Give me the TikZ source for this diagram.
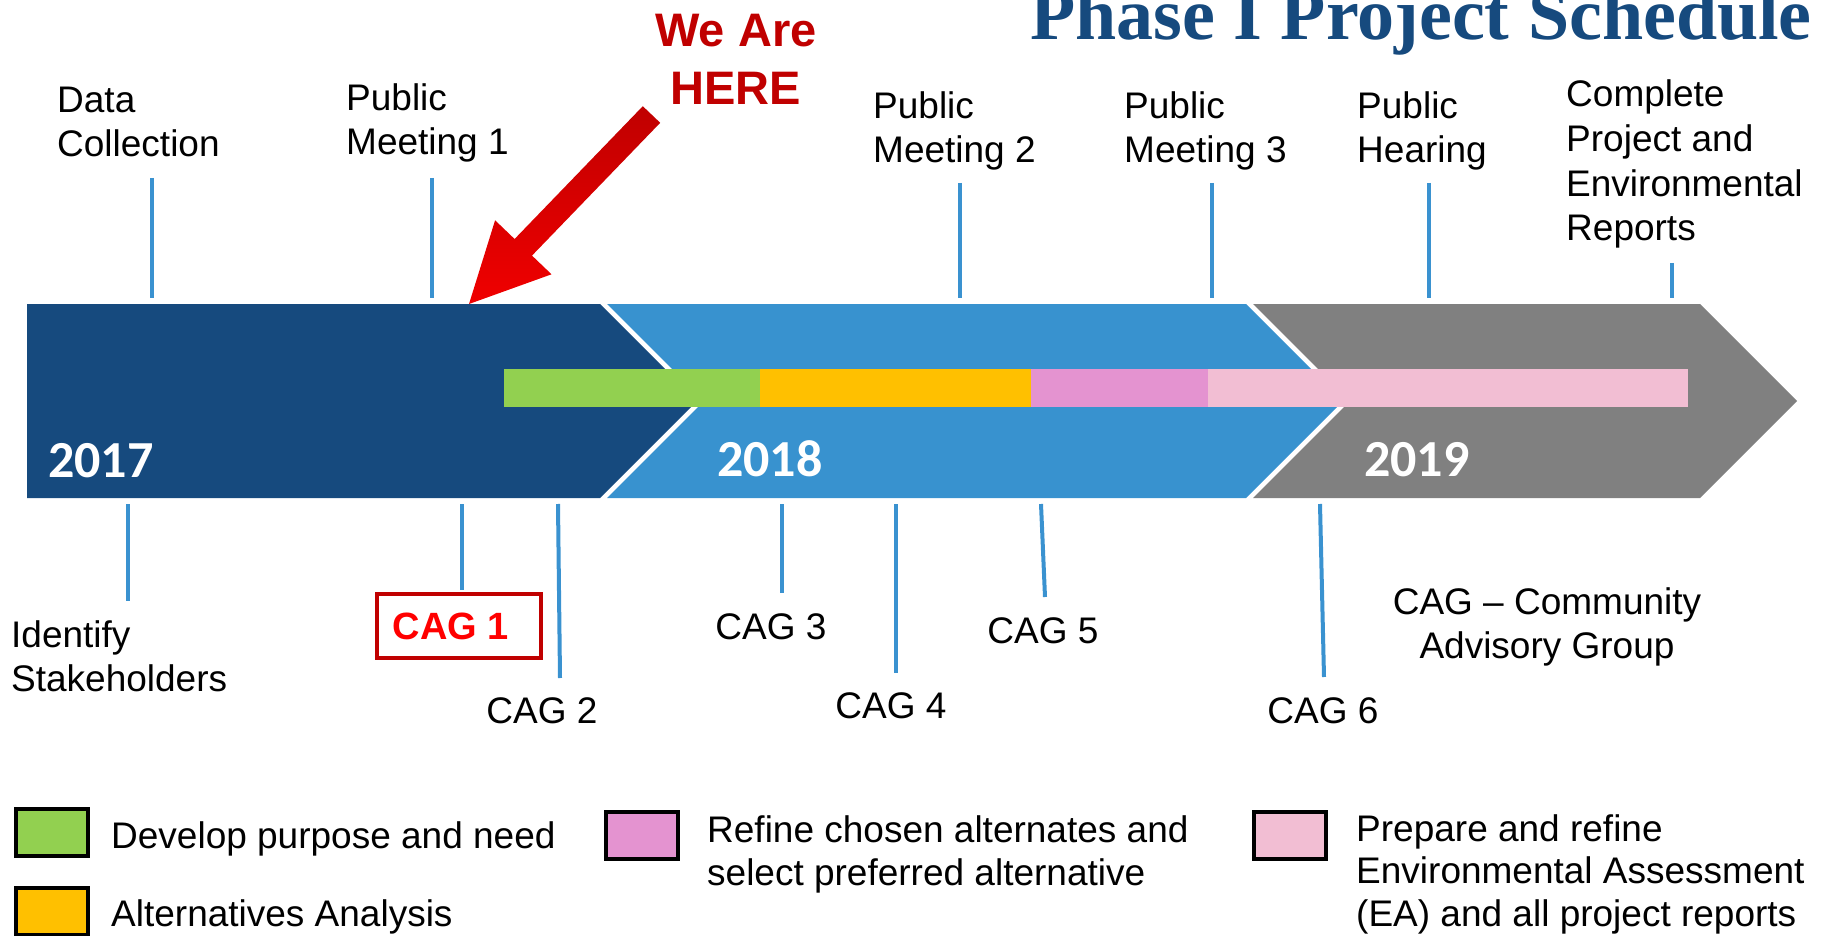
\documentclass[tikz,border=0pt]{standalone}
\usepackage{fontspec}
\setmainfont{Liberation Sans}
\newfontfamily\yearfont{Carlito}
\newfontfamily\titlefont{Liberation Serif}

\definecolor{bandDark}{RGB}{22,74,126}
\definecolor{bandLight}{RGB}{56,146,207}
\definecolor{bandGray}{RGB}{128,128,128}
\definecolor{tickBlue}{RGB}{58,146,208}
\definecolor{stepGreen}{RGB}{146,208,80}
\definecolor{stepOrange}{RGB}{255,192,0}
\definecolor{stepPink}{RGB}{228,147,208}
\definecolor{stepRose}{RGB}{242,190,211}
\definecolor{hereRed}{RGB}{192,0,0}
\definecolor{hereBright}{RGB}{240,0,0}

\tikzset{
  tickline/.style={draw=tickBlue, line width=4pt},
  lbl/.style={inner sep=0pt, align=left, anchor=base west, font=\fontsize{37}{44}\selectfont},
  cag/.style={inner sep=0pt, anchor=base, font=\fontsize{37}{44}\selectfont},
  yearlbl/.style={inner sep=0pt, anchor=base west, text=white, font=\yearfont\bfseries\fontsize{52}{60}\selectfont},
  legendbox/.style={draw=black, line width=4pt, minimum width=72pt, minimum height=47pt, inner sep=0pt},
}

\begin{document}
\begin{tikzpicture}[x=1pt,y=-1pt]
\useasboundingbox (0,0) rectangle (1824,936);
\clip (0,0) rectangle (1824,936);

\fill[bandDark] (27,304) -- (600,304) -- (697,401) -- (600,498) -- (27,498) -- cycle;
\fill[bandLight] (607,304) -- (1246,304) -- (1343,401) -- (1246,498) -- (607,498) -- (704,401) -- cycle;
\fill[bandGray] (1253,304) -- (1700,304) -- (1797,401) -- (1700,498) -- (1253,498) -- (1350,401) -- cycle;

\fill[stepGreen] (504,369) rectangle (760,407);
\fill[stepOrange] (760,369) rectangle (1031,407);
\fill[stepPink] (1031,369) rectangle (1208,407);
\fill[stepRose] (1208,369) rectangle (1688,407);

\node[yearlbl] (y17) at (48,477) {2017};
\node[yearlbl] (y18) at (717,476) {2018};
\node[yearlbl] (y19) at (1364,476) {2019};

\node[anchor=base east, inner sep=0pt, text=bandDark, font=\titlefont\bfseries\fontsize{74}{80}\selectfont] (title) at (1812,40) {Phase I Project Schedule};

\node[lbl] (data) at (57,157) {Data\\Collection};
\node[lbl] (pm1) at (346,155) {Public\\Meeting 1};
\node[lbl] (pm2) at (873,163) {Public\\Meeting 2};
\node[lbl] (pm3) at (1124,163) {Public\\Meeting 3};
\node[lbl] (hear) at (1357,163) {Public\\Hearing};
\node[lbl, font=\fontsize{37}{44.7}\selectfont] (done) at (1566,241) {Complete\\Project and\\Environmental\\Reports};
\node[lbl] (stake) at (11,691) {Identify\\Stakeholders};

\node[draw=hereRed, line width=4pt, minimum width=164pt, minimum height=64pt, inner sep=0pt, text=red, font=\bfseries\fontsize{38}{44}\selectfont] (cag1) at (459,626) {CAG 1\hspace*{16pt}};
\node[cag] (cag2) at (542,723) {CAG 2};
\node[cag] (cag3) at (771,639) {CAG 3};
\node[cag] (cag4) at (891,718) {CAG 4};
\node[cag] (cag5) at (1043,643) {CAG 5};
\node[cag] (cag6) at (1323,723) {CAG 6};
\node[cag, align=center] (note) at (1547,658) {CAG -- Community\\Advisory Group};

\foreach \n/\xa/\ya/\xb/\yb in {data/152/178/152/298, pm1/432/178/432/298, pm2/960/183/960/298,
  pm3/1212/183/1212/298, hear/1429/183/1429/298, done/1672/263/1672/298,
  stake/127.5/504/127.5/601, cag1/462/504/462/590, cag2/558/504/560/678, cag3/782/504/782/593,
  cag4/895.5/504/895.5/673, cag5/1041/504/1045/597, cag6/1320/504/1324/677}{
  \coordinate (\n-a) at (\xa,\ya);
  \coordinate (\n-b) at (\xb,\yb);
  \draw[tickline] (\n-a) -- (\n-b);
}

\node[align=center, anchor=base, inner sep=0pt, text=hereRed, font=\bfseries\fontsize{47}{58}\selectfont] (here) at (736,105) {We Are\\HERE};
\coordinate (here-tip) at (469,304);
\shade[top color=hereRed, bottom color=hereBright] (here-tip) -- (551.5,274.3) -- (532,255.6) -- (660.2,122.8)
  -- (642.8,106.2) -- (514.6,239) -- (495.1,220.3) -- cycle;

\node[legendbox, fill=stepGreen] (kgreen) at (52,832.5) {};
\node[legendbox, fill=stepOrange] (korange) at (52,911.5) {};
\node[legendbox, fill=stepPink] (kpink) at (642,835) {};
\node[legendbox, fill=stepRose] (krose) at (1290,835) {};
\node[lbl] (tgreen) at (111,848) {Develop purpose and need};
\node[lbl] (torange) at (111,926) {Alternatives Analysis};
\node[lbl, font=\fontsize{37}{43}\selectfont] (tpink) at (707,885) {Refine chosen alternates and\\select preferred alternative};
\node[lbl, font=\fontsize{37}{42.5}\selectfont] (trose) at (1356,926) {Prepare and refine\\Environmental Assessment\\(EA) and all project reports};
\end{tikzpicture}
\end{document}
